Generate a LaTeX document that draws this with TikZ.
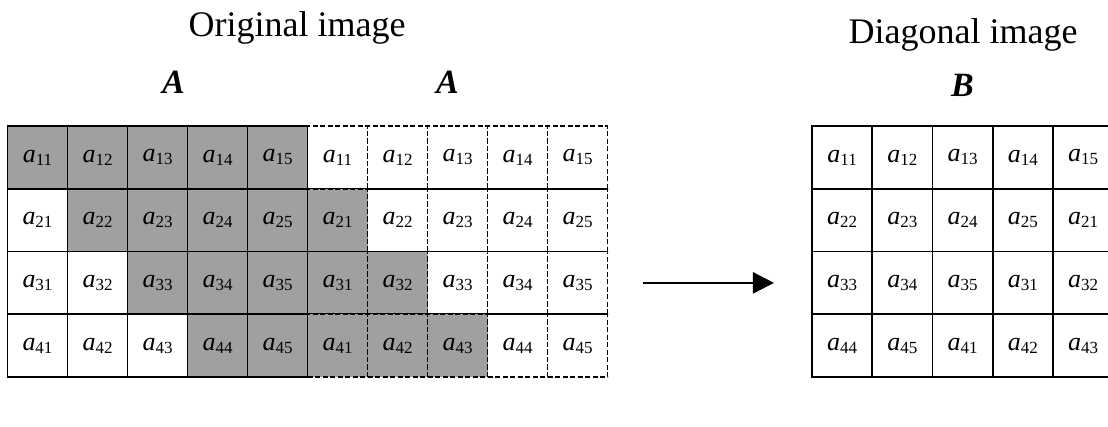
\documentclass[tikz,border=0pt]{standalone}
\usepackage{fontspec}
\setmainfont{Liberation Serif}
\usepackage{tikz}
\usetikzlibrary{arrows.meta}

\definecolor{cellgray}{RGB}{160,160,160}
\newcommand{\ent}[1]{\textit{a}\raisebox{-0.25ex}{\fontsize{17}{17}\selectfont #1}}

\begin{document}
\begin{tikzpicture}[x=1pt,y=-1pt,>={Triangle[length=21pt,width=21pt]}]
		\tikzstyle{cell}=[draw=black,line width=1.8pt,minimum width=60pt,minimum height=62.75pt,
			inner sep=0pt,outer sep=0pt,font=\fontsize{26}{26}\selectfont]
		\tikzstyle{dcell}=[cell,line width=1.8pt,dash pattern=on 5pt off 2.5pt]
		\tikzstyle{title}=[anchor=base,font=\fontsize{36}{36}\selectfont]
		\tikzstyle{mat}=[anchor=base,font=\fontsize{34}{34}\selectfont\bfseries\itshape]
		
		\useasboundingbox (0,0) rectangle (1108,427);
		\clip (0,0) rectangle (1108,427);
		
		% shifted copy, dashed
		\foreach \row in {1,...,4}
		\foreach \col in {1,...,5} {
			\ifnum\col<\row \def\fc{cellgray}\else\def\fc{none}\fi
			\node[dcell,fill=\fc] (D\row\col) at ({337.5+60*(\col-1)},{157.4+62.75*(\row-1)}) {\ent{\row\col}};
		}
		% original
		\foreach \row in {1,...,4}
		\foreach \col in {1,...,5} {
			\ifnum\col<\row \def\fc{none}\else\def\fc{cellgray}\fi
			\node[cell,fill=\fc] (L\row\col) at ({37.5+60*(\col-1)},{157.4+62.75*(\row-1)}) {\ent{\row\col}};
		}
		% diagonal image
		\foreach \row in {1,...,4}
		\foreach \col in {1,...,5} {
			\pgfmathtruncatemacro\k{mod(\col+\row-2,5)+1}
			\node[cell,minimum width=60.25pt] (B\row\col) at ({842.1+60.25*(\col-1)},{157.4+62.75*(\row-1)}) {\ent{\row\k}};
		}
		
		\node[title] (orig) at (297,37) {Original image};
		\node[title] (diag) at (963,44) {Diagonal image};
		\node[mat] (ma) at (173.5,94) {A};
		\node[mat] (mb) at (447.5,94) {A};
		\node[mat] (mc) at (962.5,97) {B};
		
		\draw[->,line width=2.4pt,shorten <=35.5pt,shorten >=38pt] (D35.east) -- (B31.west);
\end{tikzpicture}
\end{document}
